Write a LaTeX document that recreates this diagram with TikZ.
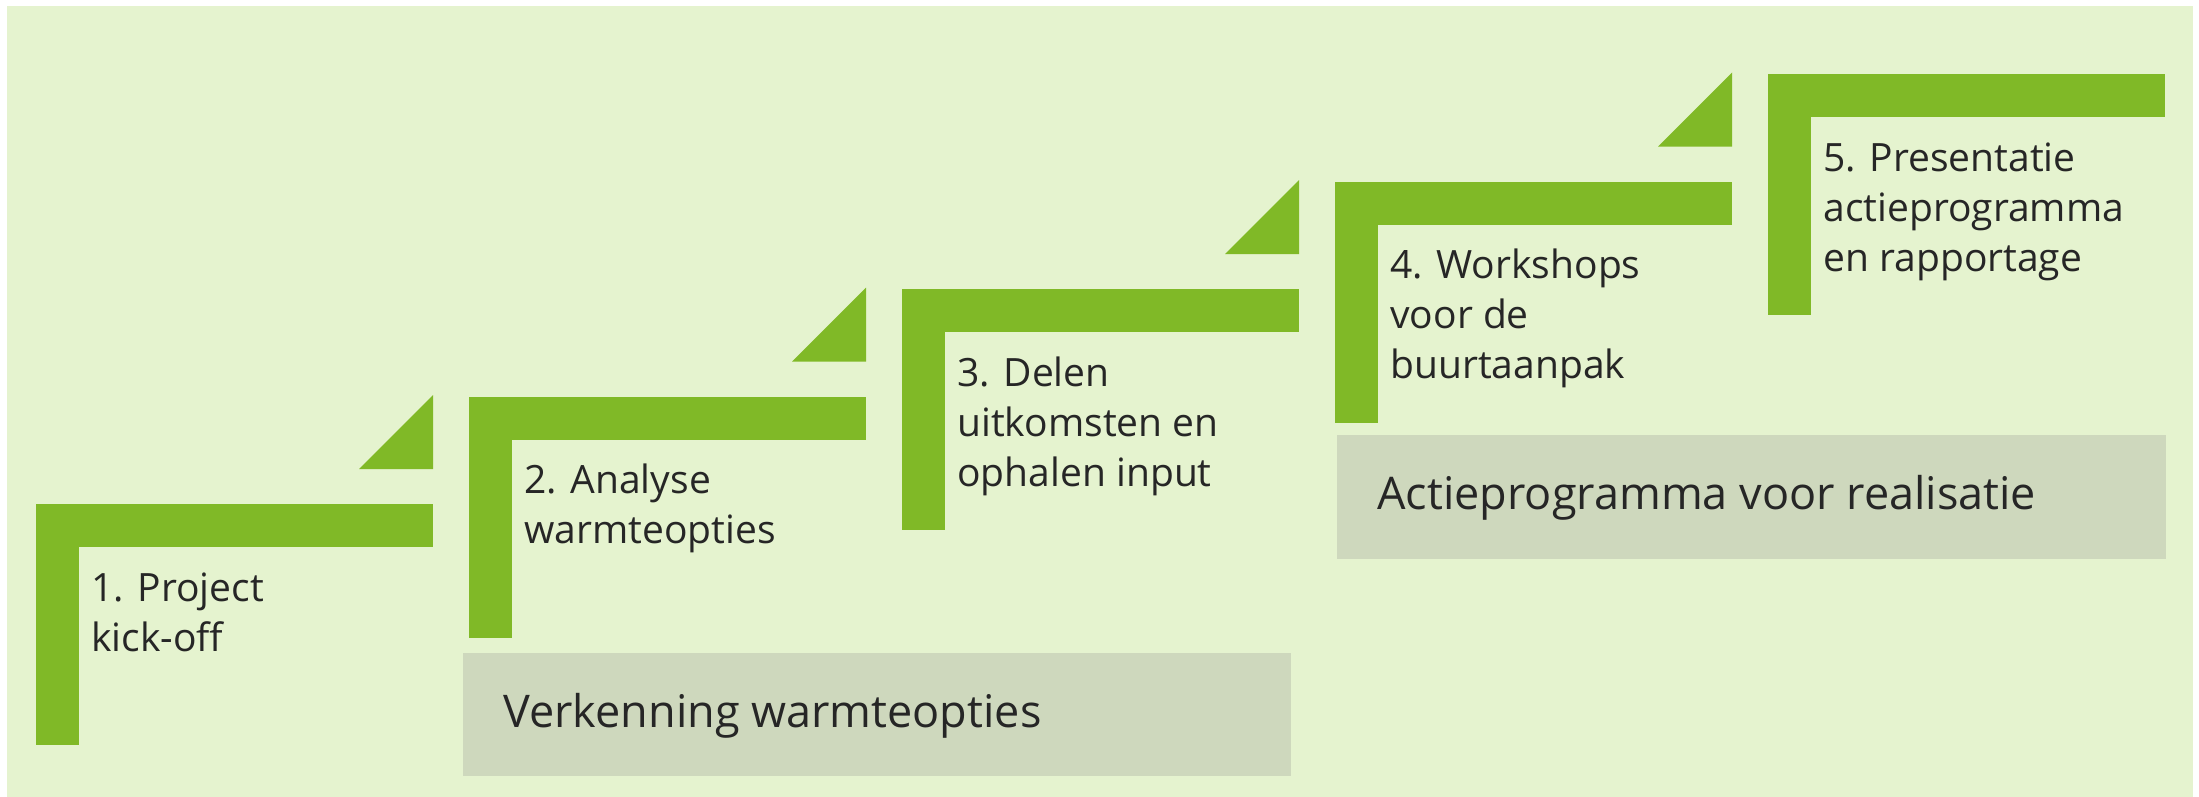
\documentclass[tikz,border=0pt]{standalone}
\usepackage{fontspec}
\setmainfont{Open Sans}
\definecolor{bggreen}{HTML}{E5F3CF}
\definecolor{stepgreen}{HTML}{80B927}
\definecolor{boxgray}{HTML}{CED8BD}
\definecolor{txt}{HTML}{262626}
\newcommand{\steptext}[1]{\begin{tabular}[t]{@{}l@{}}#1\end{tabular}}
\tikzset{
  stepfill/.style={fill=stepgreen, draw=none},
  steplabel/.style={anchor=base west, inner sep=0pt, text=txt,
    font=\fontsize{19.5}{25}\selectfont},
  phasebox/.style={fill=boxgray, draw=none},
  phaselabel/.style={anchor=base west, inner sep=0pt, text=txt,
    font=\fontsize{22.5}{27}\selectfont},
}
\begin{document}
\begin{tikzpicture}[x=0.5pt, y=-0.5pt]
\useasboundingbox (0,0) rectangle (2199,797);
\fill[white] (0,0) rectangle (2199,797);
\fill[bggreen] (7,6) rectangle (2193,797);
% steps
\foreach \k in {0,...,4}{
  \pgfmathsetmacro{\vx}{36+433*\k}
  \pgfmathsetmacro{\hy}{504-107.5*\k}
  \fill[stepfill] (\vx,\hy) rectangle ({\vx+43},{\hy+241});
  \fill[stepfill] (\vx,\hy) rectangle ({\vx+397},{\hy+43});
}
\foreach \k in {0,...,3}{
  \pgfmathsetmacro{\vx}{36+433*\k}
  \pgfmathsetmacro{\hy}{504-107.5*\k}
  \fill[stepfill] ({\vx+323},{\hy-35}) -- ({\vx+397},{\hy-35}) -- ({\vx+397},{\hy-109}) -- cycle;
}
% step labels
\node[steplabel] (s1) at (91,601) {\steptext{1. Project\\kick-off}};
\node[steplabel] (s2) at (524,493.5) {\steptext{2. Analyse\\warmteopties}};
\node[steplabel] (s3) at (957,386) {\steptext{3. Delen\\uitkomsten en\\ophalen input}};
\node[steplabel] (s4) at (1390,278.5) {\steptext{4. Workshops\\voor de\\buurtaanpak}};
\node[steplabel] (s5) at (1823,171) {\steptext{5. Presentatie\\actieprogramma\\en rapportage}};
% phase boxes
\fill[phasebox] (463,653) rectangle (1291,776);
\node[phaselabel] (p1) at (503,727) {Verkenning warmteopties};
\fill[phasebox] (1337,435) rectangle (2166,559);
\node[phaselabel] (p2) at (1377,509) {Actieprogramma voor realisatie};
\end{tikzpicture}
\end{document}
